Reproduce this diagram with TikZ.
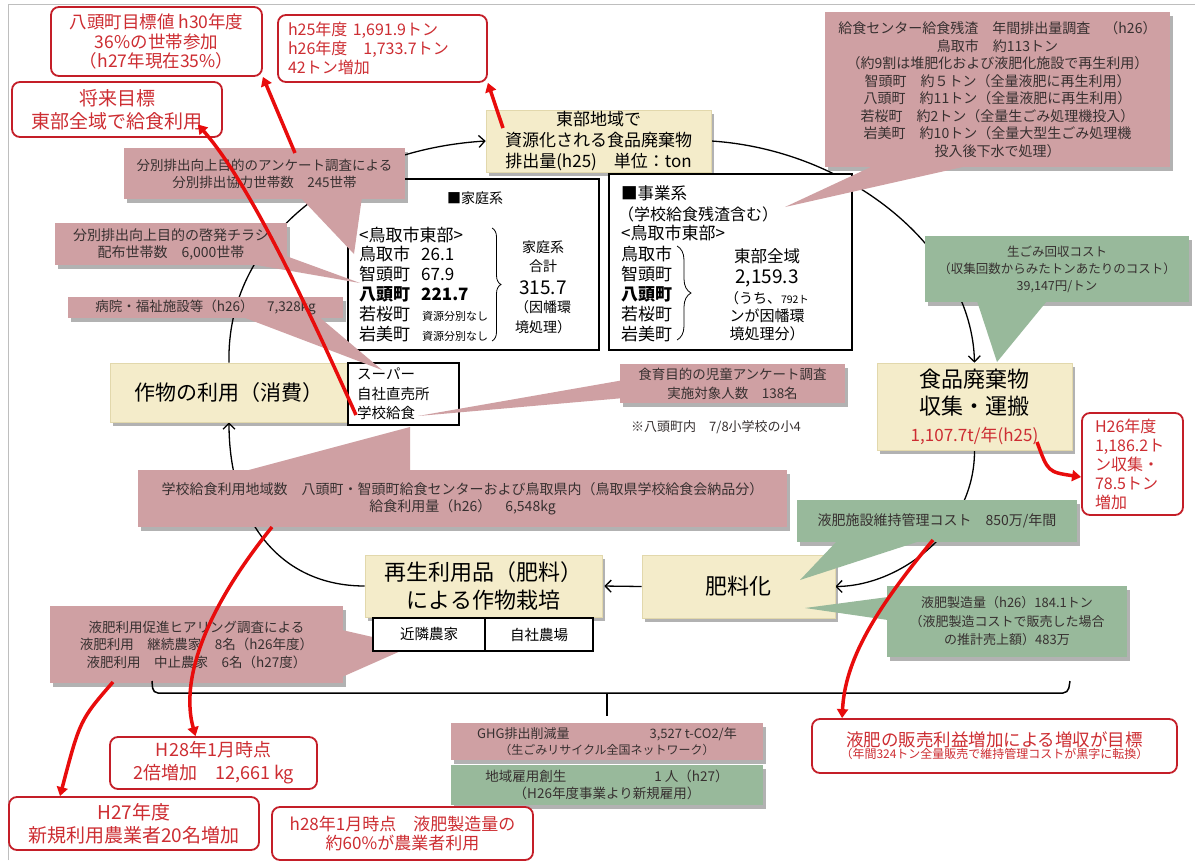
\documentclass[tikz,border=0pt]{standalone}
\usepackage{fontspec}
\setmainfont{Noto Sans CJK JP}
\usetikzlibrary{arrows.meta,shadows,decorations.pathreplacing,backgrounds,calc}
\definecolor{pinkc}{RGB}{207,160,163}
\definecolor{greenc}{RGB}{152,185,155}
\definecolor{yelc}{RGB}{244,236,202}
\definecolor{yelb}{RGB}{226,216,172}
\definecolor{redb}{RGB}{196,30,40}
\definecolor{redt}{RGB}{205,45,50}
\definecolor{redl}{RGB}{232,12,12}
\definecolor{txtc}{RGB}{55,48,48}
\definecolor{framec}{RGB}{190,190,190}
\newcommand{\myfs}[2]{\fontsize{#1}{#2}\selectfont}
\tikzset{
  shd/.style={drop shadow={shadow xshift=2.5pt,shadow yshift=-3.5pt,opacity=0.3,fill=black}},
  yelbox/.style={fill=yelc, draw=yelb, line width=0.6pt, inner sep=0pt, align=center, text=black, shd},
  callp/.style={fill=pinkc, inner sep=0pt, align=center, text=txtc, shd},
  callg/.style={fill=greenc, inner sep=0pt, align=center, text=txtc, shd},
  wedgep/.style={fill=pinkc},
  wedgeg/.style={fill=greenc},
  redbox/.style={draw=redb, line width=1.8pt, rounded corners=8pt, fill=white, text=redt, align=center, inner sep=0pt},
  blkbox/.style={draw=black, line width=1.3pt, fill=white, inner sep=0pt},
  lbl/.style={inner sep=0pt, text=black},
  cyc/.style={line width=1.3pt, -{Straight Barb[length=6pt,width=12pt]}},
  redarr/.style={draw=redl, line width=3.5pt, -{Triangle[length=9pt,width=11pt]}},
  brk/.style={line width=1.5pt},
}
\begin{document}
\begin{tikzpicture}[x=1pt,y=-1pt]
\useasboundingbox (0,0) rectangle (1195,865);

% ---- main cycle boxes
\node[yelbox, minimum width=225, minimum height=62, font=\myfs{17}{21}] (A) at (598.5,141) {東部地域で\\資源化される食品廃棄物\\排出量(h25)　単位：ton};
\node[yelbox, minimum width=195, minimum height=87, font=\myfs{22}{27}] (B) at (974.5,406.5) {食品廃棄物\\収集・運搬\\{\color{redt}\myfs{17}{22}1,107.7t/年(h25)}};
\node[yelbox, minimum width=238, minimum height=59, font=\myfs{21}{26}] (C) at (229,392.5) {作物の利用（消費）};
\node[yelbox, minimum width=193, minimum height=63, font=\myfs{22}{26}] (D) at (738.5,586.5) {肥料化};
\node[yelbox, minimum width=237, minimum height=62, font=\myfs{22}{28}] (E) at (483.5,586) {再生利用品（肥料）\\による作物栽培};

% ---- household box
\node[blkbox, minimum width=251, minimum height=171] (F) at (473.5,264.5) {};
\node[lbl, font=\myfs{14}{16}] (Fh) at (475,198) {■家庭系};
\node[lbl, anchor=west, font=\myfs{17}{20}] (Ft) at (359,235) {<鳥取市東部>};
\node[lbl, anchor=west, font=\myfs{17}{20}] (F1) at (359,254) {鳥取市};
\node[lbl, anchor=west, font=\myfs{17}{20}] (F2) at (359,274) {智頭町};
\node[lbl, anchor=west, font=\myfs{17}{20}\bfseries] (F3) at (359,294) {八頭町};
\node[lbl, anchor=west, font=\myfs{17}{20}] (F4) at (359,314) {若桜町};
\node[lbl, anchor=west, font=\myfs{17}{20}] (F5) at (359,334) {岩美町};
\node[lbl, anchor=west, font=\myfs{17}{20}] (F1v) at (421,254) {26.1};
\node[lbl, anchor=west, font=\myfs{17}{20}] (F2v) at (421,274) {67.9};
\node[lbl, anchor=west, font=\myfs{17}{20}\bfseries] (F3v) at (421,294) {221.7};
\node[lbl, anchor=west, font=\myfs{11}{13}] (F4v) at (422,316) {資源分別なし};
\node[lbl, anchor=west, font=\myfs{11}{13}] (F5v) at (422,336) {資源分別なし};
\draw[decorate, decoration={brace, amplitude=9pt}, line width=0.8pt] (492,228) -- (492,341);
\node[lbl, font=\myfs{14}{17}] (Fs1) at (543,247) {家庭系};
\node[lbl, font=\myfs{14}{17}] (Fs2) at (543,266) {合計};
\node[lbl, font=\myfs{19}{22}] (Fs3) at (543,288) {315.7};
\node[lbl, font=\myfs{14}{17}] (Fs4) at (543,307) {（因幡環};
\node[lbl, font=\myfs{14}{17}] (Fs5) at (543,327) {境処理）};

% ---- business box
\node[blkbox, minimum width=243, minimum height=176] (G) at (730.5,262) {};
\node[lbl, anchor=west, font=\myfs{16.5}{20}] (Gh) at (621,193) {■事業系};
\node[lbl, anchor=west, font=\myfs{16}{20}] (Gh2) at (618,214) {（学校給食残渣含む）};
\node[lbl, anchor=west, font=\myfs{17}{20}] (Gt) at (621,233) {<鳥取市東部>};
\node[lbl, anchor=west, font=\myfs{17}{20}] (G1n) at (621,254) {鳥取市};
\node[lbl, anchor=west, font=\myfs{17}{20}] (G2n) at (621,274) {智頭町};
\node[lbl, anchor=west, font=\myfs{17}{20}\bfseries] (G3n) at (621,294) {八頭町};
\node[lbl, anchor=west, font=\myfs{17}{20}] (G4n) at (621,314) {若桜町};
\node[lbl, anchor=west, font=\myfs{17}{20}] (G5n) at (621,334) {岩美町};
\draw[decorate, decoration={brace, amplitude=14pt}, line width=0.8pt] (677,246) -- (677,340);
\node[lbl, font=\myfs{16.5}{20}] (Gs1) at (767,256) {東部全域};
\node[lbl, font=\myfs{19}{22}] (Gs2) at (767,278) {2,159.3};
\node[lbl, font=\myfs{14}{17}] (Gs3) at (767,298) {（うち、{\myfs{10.5}{12}792ト}};
\node[lbl, font=\myfs{15}{17}] (Gs4) at (767,316) {ンが因幡環};
\node[lbl, font=\myfs{15}{17}] (Gs5) at (767,334) {境処理分）};

% ---- sales box
\node[blkbox, minimum width=111, minimum height=62] (H) at (403.5,394) {};
\node[lbl, anchor=west, font=\myfs{14.5}{19.5}, align=left] (Ht) at (357,394) {スーパー\\自社直売所\\学校給食};

% ---- callouts
\node[callp, minimum width=281, minimum height=51, font=\myfs{13.5}{17}] (P1) at (264.5,173.5) {分別排出向上目的のアンケート調査による\\分別排出協力世帯数　245世帯};
\node[callp, minimum width=232, minimum height=42, font=\myfs{14}{17}] (P2) at (171,244) {分別排出向上目的の啓発チラシ\\配布世帯数　6,000世帯};
\node[callp, minimum width=275, minimum height=21, font=\myfs{13.5}{16}] (P3) at (205.5,307.5) {病院・福祉施設等（h26）　7,328kg};
\node[callp, minimum width=225, minimum height=39, font=\myfs{13.5}{19}] (P4) at (732.5,383.5) {食育目的の児童アンケート調査\\実施対象人数　138名};
\node[lbl, anchor=west, font=\myfs{13}{16}, text=txtc] (P4n) at (631,427) {※八頭町内　7/8小学校の小4};
\node[callp, minimum width=649, minimum height=57, font=\myfs{14}{17}] (P5) at (462.5,498.5) {学校給食利用地域数　八頭町・智頭町給食センターおよび鳥取県内（鳥取県学校給食会納品分）\\給食利用量（h26）　6,548kg};
\node[callp, minimum width=293, minimum height=77, font=\myfs{13.5}{17.5}] (P6) at (196.5,644.5) {液肥利用促進ヒアリング調査による\\液肥利用　継続農家　8名（h26年度）\\液肥利用　中止農家　6名（h27度）};
\node[callp, minimum width=345, minimum height=155, font=\myfs{14}{17.5}] (P7) at (997.5,89.5) {給食センター給食残渣　年間排出量調査　（h26）\\鳥取市　約113トン\\（約9割は堆肥化および液肥化施設で再生利用）\\智頭町　約５トン（全量液肥に再生利用）\\八頭町　約11トン（全量液肥に再生利用）\\若桜町　約2トン（全量生ごみ処理機投入）\\岩美町　約10トン（全量大型生ごみ処理機\\投入後下水で処理）};
\node[callg, minimum width=264, minimum height=66, font=\myfs{12.5}{17}] (G1) at (1057,269) {生ごみ回収コスト\\（収集回数からみたトンあたりのコスト）\\39,147円/トン};
\node[callg, minimum width=280, minimum height=42, font=\myfs{14}{17}] (G2) at (937,521) {液肥施設維持管理コスト　850万/年間};
\node[callg, minimum width=240, minimum height=71, font=\myfs{13}{18.5}] (G3) at (1007,621.5) {液肥製造量（h26）184.1トン\\（液肥製造コストで販売した場合\\の推計売上額）483万};
\node[callp, minimum width=312, minimum height=37, font=\myfs{13}{16}] (GHG) at (607,741.5) {GHG排出削減量\hspace{80pt}3,527 t-CO2/年\\{\myfs{12}{16}（生ごみリサイクル全国ネットワーク）}};
\node[callg, minimum width=312, minimum height=40, font=\myfs{13.5}{16.5}] (JOB) at (607,785) {地域雇用創生\hspace{88pt}1 人（h27）\\（H26年度事業より新規雇用）};

% ---- callout pointers
\fill[wedgep] (300,197) -- (362,197) -- (354,254) -- cycle;
\fill[wedgep] (245,263) -- (286,256) -- (360,283) -- cycle;
\fill[wedgep] (240,316) -- (318,316) -- (382,370) -- cycle;
\fill[wedgep] (624,380) -- (624,398) -- (418,416) -- cycle;
\fill[wedgep] (245,471) -- (410,471) -- (410,427) -- cycle;
\fill[wedgep] (342,630) -- (342,677) -- (412,646) -- cycle;
\fill[wedgep] (873,166) -- (967,166) -- (785,207) -- cycle;
\fill[wedgeg] (977,301) -- (1047,301) -- (997,362) -- cycle;
\fill[wedgeg] (837,541) -- (920,541) -- (800,580) -- cycle;
\fill[wedgeg] (888,597) -- (888,620) -- (805,608) -- cycle;

% ---- farm table
\node[blkbox, minimum width=112, minimum height=33, font=\myfs{14.5}{17}] (E1) at (429,634.5) {近隣農家};
\node[blkbox, minimum width=108, minimum height=33, font=\myfs{14.5}{17}] (E2) at (539,634.5) {自社農場};

% ---- bottom bracket
\coordinate (bk) at (607,693);
\draw[brk, rounded corners=5pt] (152,681) -- (153,693) -- (1068,693) -- (1070,681);
\draw[brk, shorten >=7pt] (bk) -- (GHG.north);

% ---- red boxes
\node[redbox, minimum width=211, minimum height=69, font=\myfs{17.5}{19.5}] (t1) at (156.5,41.5) {八頭町目標値 h30年度\\36\%の世帯参加\\（h27年現在35\%）};
\node[redbox, inner xsep=10pt, text width=189pt, align=left, minimum height=67, font=\myfs{16}{19}] (t2) at (382.5,48.5) {h25年度 1,691.9トン\\h26年度　1,733.7トン\\42トン増加};
\node[redbox, minimum width=210, minimum height=55, font=\myfs{19}{23}] (t3) at (117,109.5) {将来目標\\東部全域で給食利用};
\node[redbox, inner xsep=13pt, text width=75pt, align=left, minimum height=102, font=\myfs{16}{19}] (t4) at (1132.5,464) {H26年度\\1,186.2ト\\ン収集・\\78.5トン\\増加};
\node[redbox, minimum width=207, minimum height=52, font=\myfs{18}{23}] (t5) at (213.5,763) {H28年1月時点\\2倍増加　12,661 kg};
\node[redbox, minimum width=250, minimum height=53, font=\myfs{19}{23}] (t6) at (134,823.5) {H27年度\\新規利用農業者20名増加};
\node[redbox, minimum width=261, minimum height=53, font=\myfs{17}{19}] (t7) at (402.5,833.5) {h28年1月時点　液肥製造量の\\約60\%が農業者利用};
\node[redbox, minimum width=365, minimum height=54] (t8) at (994.5,746) {{\myfs{17.5}{20}液肥の販売利益増加による増収が目標}\\{\myfs{12}{16}（年間324トン全量販売で維持管理コストが黒字に転換）}};

% ---- red arrows
\coordinate (r1s) at (295,153);
\coordinate (r2s) at (356,415);
\coordinate (r3s) at (503,128);
\coordinate (r4s) at (1037,442);
\coordinate (r5s) at (272,527);
\coordinate (r6s) at (113,682);
\coordinate (r7s) at (933,540);
\draw[redarr] (r1s) -- (t1.south east);
\draw[redarr] (r2s) .. controls (311,315) and (251,185) .. ($(t3.east)+(-25,15)$);
\draw[redarr] (r3s) -- (t2.south east);
\draw[redarr] (r4s) .. controls (1048,472) .. ($(t4.west)+(0,13)$);
\draw[redarr] (r5s) .. controls (205,610) and (180,680) .. ($(t5.north)+(-18,0)$);
\draw[redarr] (r6s) .. controls (80,720) .. ($(t6.north)+(-74,0)$);
\draw[redarr] (r7s) .. controls (875,610) and (845,660) .. ($(t8.north west)+(31,0)$);

% ---- background, frame and cycle connectors (behind everything)
\begin{scope}[on background layer]
\fill[white] (0,0) rectangle (1195,865);
\draw[framec, line width=0.8pt] (8,860) -- (8,4) -- (1195,4);
\draw[cyc] (C.north) .. controls (226,240) and (340,150) .. (A.west);
\draw[cyc] (A.east) .. controls (850,150) and (972,250) .. (B.north);
\draw[cyc] (B.south) .. controls (975,530) and (900,586) .. (D.east);
\draw[cyc, shorten >=2pt] (D.west) -- (E.east);
\draw[cyc] (E.west) .. controls (280,586) and (229,520) .. (C.south);
\end{scope}
\end{tikzpicture}
\end{document}
